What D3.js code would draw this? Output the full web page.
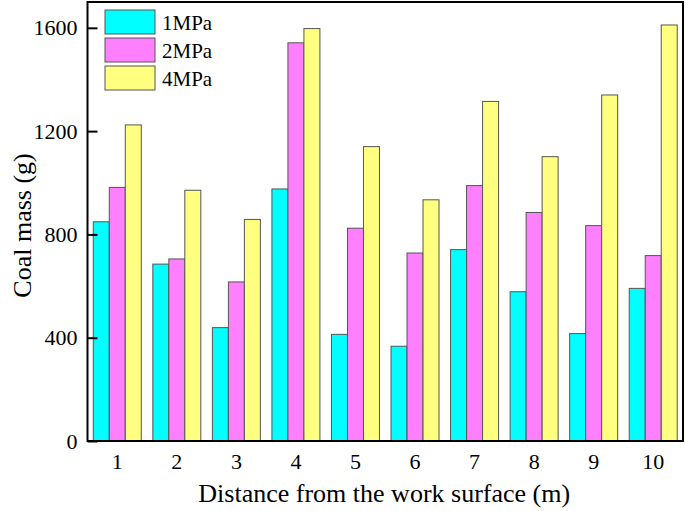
<!DOCTYPE html>
<html>
<head>
<meta charset="utf-8">
<script src="https://cdn.jsdelivr.net/npm/d3@7"></script>
<style>
  body { margin: 0; background: #fff; }
  svg { display: block; }
  svg text { font-family: "Times New Roman", "Liberation Serif", Times, serif !important; fill: #000; }
</style>
</head>
<body>
<svg id="chart" width="685" height="511"></svg>
<script>
// distance categories (m)
const categories = ['1', '2', '3', '4', '5', '6', '7', '8', '9', '10']
const seriesNames = ['1MPa', '2MPa', '4MPa']
const seriesColors = ['#00ffff', '#ff80ff', '#ffff80']
// coal mass (g)
const mass1MPa = [849, 685, 439, 976, 413, 367, 741, 578, 416, 591]
const mass2MPa = [982, 705, 616, 1542, 824, 728, 989, 885, 834, 718]
const mass4MPa = [1224, 971, 858, 1597, 1140, 934, 1315, 1101, 1340, 1611]
const yTicks = [0, 400, 800, 1200, 1600]

const seriesValues = [mass1MPa, mass2MPa, mass4MPa]

const svg = d3.select('#chart')
const W = 685, H = 511
const margin = { top: 2, right: 2, bottom: 70, left: 87.5 }
const plotL = margin.left, plotR = W - margin.right
const plotT = margin.top, plotB = H - margin.bottom

const x = d3.scaleBand()
  .domain(categories)
  .range([plotL, plotR])
  .paddingInner(0)
  .paddingOuter(0)

const groupW = 48
const xSub = d3.scaleBand()
  .domain(seriesNames)
  .range([(x.bandwidth() - groupW) / 2, (x.bandwidth() + groupW) / 2])
  .padding(0)

const y = d3.scaleLinear()
  .domain([0, 1700])
  .range([plotB, plotT])

// bars
const rows = categories.map((c, i) => ({
  cat: c,
  vals: seriesNames.map((s, k) => ({ name: s, value: seriesValues[k][i], color: seriesColors[k] }))
}))

const groups = svg.append('g')
  .selectAll('g')
  .data(rows)
  .join('g')
  .attr('transform', d => `translate(${x(d.cat)},0)`)

groups.selectAll('rect')
  .data(d => d.vals)
  .join('rect')
  .attr('x', d => xSub(d.name))
  .attr('y', d => y(d.value))
  .attr('width', xSub.bandwidth())
  .attr('height', d => y(0) - y(d.value))
  .attr('fill', d => d.color)
  .attr('stroke', '#555')
  .attr('stroke-width', 1)

// frame
svg.append('rect')
  .attr('x', plotL)
  .attr('y', plotT)
  .attr('width', plotR - plotL)
  .attr('height', plotB - plotT)
  .attr('fill', 'none')
  .attr('stroke', '#000')
  .attr('stroke-width', 2)

// y axis with inward ticks
const yAxis = d3.axisLeft(y)
  .tickValues(yTicks)
  .tickFormat(d3.format('d'))
  .tickSizeInner(-10)
  .tickSizeOuter(0)
  .tickPadding(10)

const yg = svg.append('g')
  .attr('transform', `translate(${plotL},0)`)
  .call(yAxis)
yg.select('.domain').remove()
yg.selectAll('.tick line').attr('stroke', '#000').attr('stroke-width', 2)
yg.selectAll('.tick text')
  .style('font-size', '22px')
  .attr('fill', '#000')

// x axis labels only
const xAxis = d3.axisBottom(x).tickSize(0).tickPadding(12)
const xg = svg.append('g')
  .attr('transform', `translate(0,${plotB})`)
  .call(xAxis)
xg.select('.domain').remove()
xg.selectAll('.tick text')
  .style('font-size', '22px')
  .attr('fill', '#000')

// axis titles
svg.append('text')
  .attr('x', (plotL + plotR) / 2 - 1)
  .attr('y', 502)
  .attr('text-anchor', 'middle')
  .style('font-size', '26px')
  .text('Distance from the work surface (m)')

svg.append('text')
  .attr('transform', `translate(31,${(plotT + plotB) / 2 + 4}) rotate(-90)`)
  .attr('text-anchor', 'middle')
  .style('font-size', '26px')
  .text('Coal mass (g)')

// legend
const legend = svg.append('g')
  .selectAll('g')
  .data(seriesNames)
  .join('g')
  .attr('transform', (d, i) => `translate(105,${10 + i * 28})`)

legend.append('rect')
  .attr('width', 50)
  .attr('height', 24)
  .attr('fill', (d, i) => seriesColors[i])
  .attr('stroke', '#555')
  .attr('stroke-width', 1)

legend.append('text')
  .attr('x', 57)
  .attr('y', 20)
  .style('font-size', '21px')
  .text(d => d)
</script>
</body>
</html>
